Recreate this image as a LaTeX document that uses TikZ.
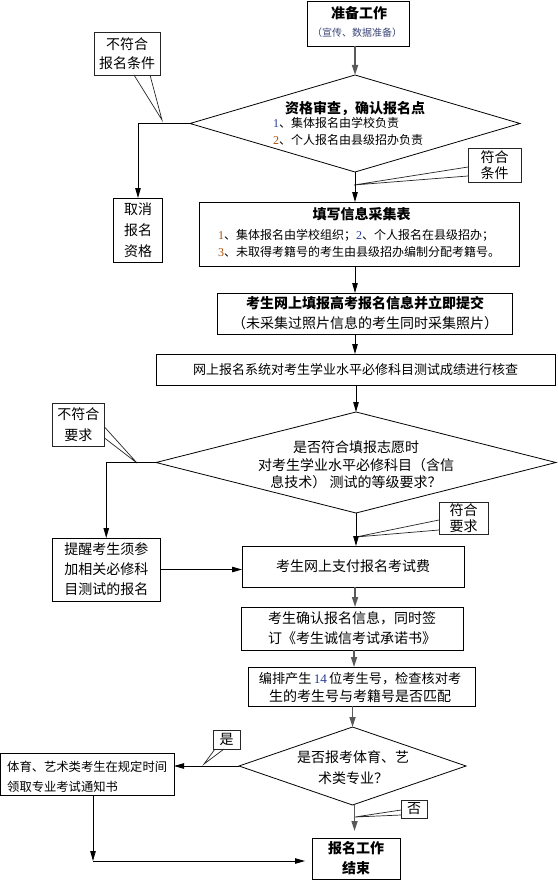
\documentclass[tikz,border=0pt]{standalone}
\usepackage{fontspec}
\setmainfont{Noto Sans CJK SC}
\newfontfamily\numf{Liberation Serif}
\usetikzlibrary{shapes.geometric,arrows.meta,calc}
\newcommand\myfs[2]{\fontsize{#1}{#2}\selectfont}
\definecolor{dgblue}{RGB}{40,60,150}
\definecolor{dgorange}{RGB}{170,80,10}
\definecolor{subcol}{RGB}{60,70,120}
\begin{document}
\begin{tikzpicture}[x=1pt,y=-1pt,
  box/.style={draw=black, line width=0.8pt, inner sep=0pt, outer sep=0pt, align=center},
  call/.style={draw=black!85, line width=0.8pt, fill=white, inner sep=0pt, outer sep=0pt, align=center},
  dia/.style={diamond, draw=black, line width=0.8pt, inner sep=0pt, outer sep=0pt},
  txt/.style={inner sep=0pt, align=center},
  arr/.style={draw=black, line width=0.8pt, -{Triangle[length=10pt,width=5.5pt]}},
  garr/.style={draw=black!65, line width=1.6pt, -{Triangle[length=10pt,width=6pt]}},
  ptr/.style={draw=black!85, line width=0.7pt},
]
\path[fill=white, use as bounding box] (0,0) rectangle (557,880);

% ---- nodes ----
\node[box, minimum width=102, minimum height=45] (prep) at (358,23.5) {};
\node[txt, font=\myfs{14}{16}\bfseries] (prep-t) at (359,13) {准备工作};
\node[txt, font=\myfs{10}{12}, text=subcol] (prep-s) at (357,33) {（宣传、数据准备）};

\node[dia, minimum width=330, minimum height=97] (d1) at (355,123.5) {};
\node[txt, font=\myfs{14}{16}\bfseries] (d1-t) at (355,108) {资格审查，确认报名点};
\node[txt, font=\myfs{12}{14}, anchor=west] (d1-a) at (273,123) {{\numf\color{dgblue}1}、集体报名由学校负责};
\node[txt, font=\myfs{12}{14}, anchor=west] (d1-b) at (273,140) {{\numf\color{dgorange}2}、个人报名由县级招办负责};

\node[call, font=\myfs{14}{19}, minimum width=66, minimum height=43] (nb1) at (127,53.5) {不符合\\报名条件};
\node[box, font=\myfs{14}{21}, minimum width=48.5, minimum height=64] (cancel) at (138,230) {取消\\报名\\资格};
\node[call, font=\myfs{14}{16}, minimum width=53, minimum height=34] (ok1) at (494.5,165) {符合\\条件};

\node[box, minimum width=320, minimum height=64] (fill) at (359,234) {};
\node[txt, font=\myfs{14}{16}\bfseries] (fill-t) at (361.5,214) {填写信息采集表};
\node[txt, font=\myfs{12}{14}, anchor=west] (fill-a) at (218,235) {{\numf\color{dgorange}1}、集体报名由学校组织；{\numf\color{dgblue}2}、个人报名在县级招办；};
\node[txt, font=\myfs{12}{14}, anchor=west] (fill-b) at (218,252) {{\numf\color{dgorange}3}、未取得考籍号的考生由县级招办编制分配考籍号。};

\node[box, font=\myfs{14}{20}, minimum width=295, minimum height=41] (submit) at (365,313.5) {{\bfseries 考生网上填报高考报名信息并立即提交}\\（未采集过照片信息的考生同时采集照片）};
\node[box, font=\myfs{13}{15}, minimum width=399, minimum height=31] (check) at (355.5,369.5) {网上报名系统对考生学业水平必修科目测试成绩进行核查};

\node[dia, minimum width=400, minimum height=101] (d2) at (356,462.5) {};
\node[txt, font=\myfs{14}{17.5}] (d2-t) at (356,465) {是否符合填报志愿时\\对考生学业水平必修科目（含信\\息技术） 测试的等级要求？};

\node[call, font=\myfs{14}{21}, minimum width=52.5, minimum height=43] (nb2) at (78.25,424.5) {不符合\\要求};
\node[box, font=\myfs{14}{20}, minimum width=107.5, minimum height=63] (remind) at (106.25,569.5) {提醒考生须参\\加相关必修科\\目测试的报名};
\node[call, font=\myfs{14}{15.5}, minimum width=49, minimum height=32] (ok2) at (463.5,518) {符合\\要求};

\node[box, font=\myfs{14}{16}, minimum width=222, minimum height=41] (pay) at (353,566.5) {考生网上支付报名考试费};
\node[box, font=\myfs{14}{20}, minimum width=222, minimum height=43] (confirm) at (352,628.5) {考生确认报名信息，同时签\\订《考生诚信考试承诺书》};

\node[box, minimum width=227, minimum height=39] (number) at (361.5,686.5) {};
\node[txt, font=\myfs{14}{18}] (number-t) at (360,687) {{\myfs{13.2}{18}编排产生\,{\numf\color{dgblue}14}\,位考生号，检查核对考}\\生的考生号与考籍号是否匹配};

\node[dia, minimum width=227, minimum height=78] (d3) at (352.5,766) {};
\node[txt, font=\myfs{14}{21}] (d3-t) at (353,768) {是否报考体育、艺\\术类专业？};

\node[call, font=\myfs{14}{16}, minimum width=27, minimum height=19] (yes) at (226.5,739.5) {是};
\node[box, minimum width=173.5, minimum height=42] (sport) at (87.25,774) {};
\node[txt, font=\myfs{12.3}{14}, anchor=west] (sport-a) at (7,767) {体育、艺术类考生在规定时间};
\node[txt, font=\myfs{12.3}{14}, anchor=west] (sport-b) at (7,787) {领取专业考试通知书};

\node[call, font=\myfs{14}{16}, minimum width=26, minimum height=18] (no) at (414,809) {否};
\node[box, font=\myfs{14}{20}\bfseries, minimum width=88, minimum height=41] (endb) at (356,858.5) {报名工作\\结束};

% ---- callout pointers ----
\coordinate (nb1tip) at (162,120);
\draw[ptr] ([xshift=40pt]nb1.south west) -- (nb1tip) -- ([xshift=56pt]nb1.south west);
\coordinate (ok1tip) at (354,185);
\draw[ptr] ([yshift=-2pt]ok1.west) -- (ok1tip) -- ([yshift=-11pt]ok1.west);
\coordinate (nb2tip) at (137,463);
\draw[ptr] ([yshift=-2.5pt]nb2.east) -- (nb2tip) -- ([yshift=-13.5pt]nb2.east);
\coordinate (ok2tip) at (356,537);
\draw[ptr] ([yshift=-2pt]ok2.west) -- (ok2tip) -- ([yshift=-12pt]ok2.west);
\coordinate (yestip) at (204,764);
\draw[ptr] ([xshift=2pt]yes.south west) -- (yestip) -- ([xshift=11pt]yes.south west);
\coordinate (notip) at (355,817);
\draw[ptr] ([yshift=-1pt]no.west) -- (notip) -- ([yshift=-6pt]no.west);

% ---- connectors ----
\draw[garr] (d1.north |- prep.south) -- (d1.north);
\draw[arr] (d1.west) -| (cancel.north);
\draw[arr] (d1.south) -- (d1.south |- fill.north);
\draw[arr] (d1.south |- fill.south) -- (d1.south |- submit.north);
\draw[arr] (d1.south |- submit.south) -- (d1.south |- check.north);
\draw[arr] (d2.north |- check.south) -- (d2.north);
\draw[arr] (d2.west) -| (remind.north);
\draw[arr] (d2.south) -- (d2.south |- pay.north);
\draw[arr] (remind.east) -- (remind.east -| pay.west);
\draw[garr] ([xshift=2pt]pay.south) -- ([xshift=2pt]pay.south |- confirm.north);
\draw[garr] ([xshift=2pt]confirm.south) -- ([xshift=2pt]confirm.south |- number.north);
\draw[garr] (d3.north |- number.south) -- (d3.north);
\draw[arr] (d3.west) -- (d3.west -| sport.east);
\coordinate (corner) at (93,861);
\draw[arr] (sport.south -| corner) -- (corner);
\draw[arr, shorten >=7pt] (corner) -- (corner -| endb.west);
\draw[garr, shorten >=7pt] ([xshift=2pt]d3.south) -- ([xshift=2pt]d3.south |- endb.north);
\end{tikzpicture}
\end{document}
